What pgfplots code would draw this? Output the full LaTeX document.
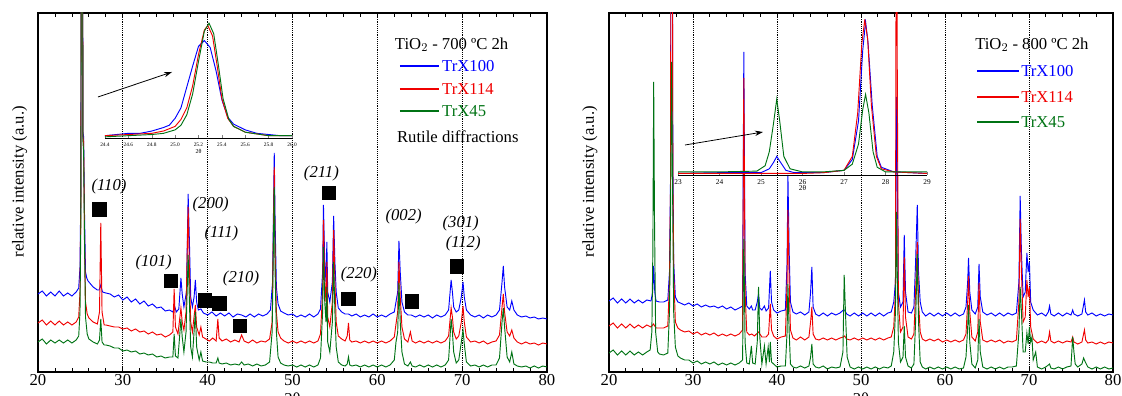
\documentclass[border=0pt]{standalone}
\usepackage{pgfplots}
\pgfplotsset{compat=1.18}
\usepackage{fontspec}
\setmainfont{Liberation Serif}
\usetikzlibrary{arrows.meta}
\definecolor{myblue}{RGB}{0,0,255}
\definecolor{myred}{RGB}{240,0,0}
\definecolor{mygreen}{RGB}{0,115,20}
\pgfplotsset{
  mainax/.style={
    scale only axis, height=269.25pt,
    xmin=20, xmax=80, ymin=0, ymax=359,
    xtick={20,30,40,50,60,70,80}, minor x tick num=4,
    ytick=\empty, tick align=inside,
    major tick length=4pt, minor tick length=3pt,
    xmajorgrids, major grid style={densely dotted, black, line width=0.5pt},
    axis line style={line width=0.8pt},
    every tick/.style={black, line width=0.6pt},
    tick label style={font=\fontsize{12.5}{14}\selectfont},
    xticklabel style={yshift=2pt},
    /pgf/number format/assume math mode=true,
    xlabel={2θ}, xlabel style={font=\fontsize{12.5}{14}\selectfont, yshift=1pt},
    ylabel={relative intensity (a.u.)},
    ylabel style={font=\fontsize{12.5}{14}\selectfont},
  },
  insetax/.style={
    scale only axis, ymin=0, ymax=1,
    axis x line*=bottom, axis y line=none,
    tick align=inside, major tick length=2pt,
    x axis line style={line width=0.6pt},
    tick label style={font=\fontsize{4}{5}\selectfont},
    /pgf/number format/assume math mode=true,
    xlabel style={font=\fontsize{4.5}{5}\selectfont, yshift=5pt},
  },
  bl/.style={color=myblue, line width=0.7pt},
  rl/.style={color=myred, line width=0.7pt},
  gl/.style={color=mygreen, line width=0.7pt},
}
\begin{document}
\begin{tikzpicture}
% ================= LEFT PANEL =================
\begin{axis}[mainax, width=381.75pt, at={(0pt,0pt)}, anchor=south west,
  ylabel style={at={(axis description cs:-0.036,0.53)}, anchor=center}]
\addplot[bl] coordinates {(20,78)(20.5,81)(21,76)(21.5,80)(22,76)(22.5,81)(23,76)(23.5,79)(24,76)(24.5,80)(24.8,84)(24.95,105)(25.05,180)(25.12,600)(25.22,600)(25.3,240)(25.38,235)(25.48,160)(25.6,100)(25.75,94)(25.9,91)(26.2,88)(26.5,85)(27.0,82)(27.2,82)(27.4,87)(27.6,80)(28,79)(28.5,78)(29,75)(29.5,77)(30,72)(30.5,75)(31,70)(31.5,73)(32,68)(32.5,71)(33,66)(33.5,68)(34,64)(34.5,65)(35,61)(35.5,62)(35.9,60)(36.1,66)(36.3,60)(36.6,63)(36.85,94)(37.0,78)(37.2,65)(37.5,80)(37.7,178)(37.85,130)(38.0,75)(38.2,65)(38.4,75)(38.55,92)(38.7,70)(38.9,62)(39.2,63)(39.5,59)(40,57)(40.5,60)(41,56)(41.5,59)(42,56)(42.5,59)(43,55)(43.5,58)(44,57)(44.5,55)(45,58)(45.5,55)(46,58)(46.5,56)(47,58)(47.4,62)(47.65,90)(47.85,219)(47.95,150)(48.1,85)(48.3,68)(48.6,61)(49,59)(49.5,57)(50,58)(50.5,55)(51,57)(51.5,55)(52,58)(52.5,55)(53,58)(53.3,63)(53.55,100)(53.65,167)(53.8,110)(53.95,90)(54.05,130)(54.15,80)(54.4,70)(54.7,90)(54.85,156)(55.0,110)(55.15,80)(55.4,64)(55.8,60)(56.2,58)(56.6,58)(57,56)(57.5,58)(58,55)(58.5,57)(59,55)(59.5,58)(60,55)(60.5,57)(61,55)(61.5,58)(62,60)(62.2,70)(62.4,80)(62.55,131)(62.7,100)(62.9,70)(63.2,60)(63.6,57)(64,57)(64.5,55)(65,57)(65.5,55)(66,57)(66.5,54)(67,57)(67.5,55)(68,57)(68.4,62)(68.7,92)(68.85,80)(69.0,65)(69.3,60)(69.6,62)(69.9,75)(70.1,90)(70.25,75)(70.5,62)(71,57)(71.5,55)(72,57)(72.5,54)(73,57)(73.5,55)(74,57)(74.4,62)(74.7,90)(74.85,106)(75.0,85)(75.3,65)(75.6,62)(75.85,71)(76.1,62)(76.5,57)(77,55)(77.5,56)(78,54)(78.5,55)(79,53)(79.5,54)(80,53)};
\addplot[rl] coordinates {(20,49)(20.5,52)(21,47)(21.5,51)(22,47)(22.5,51)(23,47)(23.5,50)(24,47)(24.5,50)(24.8,55)(24.95,80)(25.05,170)(25.12,600)(25.22,600)(25.3,235)(25.38,230)(25.48,140)(25.6,70)(25.8,58)(26,54)(26.5,50)(27,48)(27.25,60)(27.4,149)(27.55,60)(27.8,47)(28,47)(28.5,46)(29,45)(29.5,45)(30,43)(30.5,44)(31,41)(31.5,43)(32,40)(32.5,41)(33,38)(33.5,40)(34,37)(34.5,38)(35,35)(35.5,37)(35.9,40)(36.05,83)(36.2,45)(36.5,38)(36.85,64)(37.0,50)(37.2,42)(37.45,60)(37.7,165)(37.85,100)(38.0,50)(38.2,40)(38.55,67)(38.7,45)(39.0,37)(39.2,45)(39.4,35)(39.8,33)(40.2,31)(40.6,34)(41.0,31)(41.2,53)(41.35,34)(41.7,31)(42.2,33)(42.7,30)(43.2,32)(43.7,30)(44.0,37)(44.3,31)(44.8,29)(45.3,32)(45.8,29)(46.3,31)(46.8,30)(47.3,33)(47.6,50)(47.85,205)(47.95,120)(48.1,60)(48.3,40)(48.6,34)(49,31)(49.5,29)(50,31)(50.5,29)(51,31)(51.5,29)(52,31)(52.5,29)(53,31)(53.3,38)(53.55,80)(53.65,152)(53.8,90)(53.95,70)(54.05,110)(54.15,55)(54.4,45)(54.7,70)(54.85,142)(55.0,90)(55.15,50)(55.4,36)(55.8,33)(56.2,31)(56.45,36)(56.6,49)(56.75,32)(57,30)(57.5,31)(58,29)(58.5,31)(59,29)(59.5,31)(60,29)(60.5,31)(61,29)(61.5,31)(62,35)(62.2,48)(62.4,60)(62.55,110)(62.7,75)(62.9,45)(63.2,33)(63.6,30)(63.9,40)(64.1,31)(64.5,29)(65,31)(65.5,29)(66,31)(66.5,29)(67,31)(67.5,29)(68,31)(68.4,36)(68.7,64)(68.85,55)(69.0,40)(69.3,33)(69.6,36)(69.9,50)(70.1,66)(70.25,50)(70.5,35)(71,30)(71.5,31)(72,29)(72.5,31)(73,28)(73.5,30)(74,31)(74.4,37)(74.7,65)(74.85,78)(75.0,60)(75.3,40)(75.6,36)(75.85,42)(76.1,34)(76.5,30)(77,28)(77.5,30)(78,28)(78.5,29)(79,27)(79.5,29)(80,28)};
\addplot[gl] coordinates {(20,30)(20.5,33)(21,28)(21.5,32)(22,29)(22.5,32)(23,29)(23.5,32)(24,29)(24.5,32)(24.8,36)(24.95,60)(25.05,150)(25.12,600)(25.22,600)(25.3,230)(25.38,220)(25.48,130)(25.6,55)(25.8,38)(26,33)(26.5,30)(27,28)(27.25,32)(27.4,53)(27.55,30)(27.8,27)(28,27)(28.5,26)(29,24)(29.5,24)(30,21)(30.5,22)(31,20)(31.5,21)(32,18)(32.5,19)(33,17)(33.5,18)(34,15)(34.5,16)(35,14)(35.5,15)(35.9,15)(36.05,38)(36.2,16)(36.5,14)(36.85,53)(37.0,35)(37.2,20)(37.45,40)(37.7,117)(37.85,70)(38.0,25)(38.2,15)(38.55,60)(38.7,25)(39.0,12)(39.2,20)(39.4,11)(39.8,10)(40.2,10)(40.6,9)(41.0,9)(41.2,14)(41.35,9)(41.7,8)(42.2,9)(42.7,7)(43.2,8)(43.7,7)(44.0,10)(44.3,7)(44.8,8)(45.3,6)(45.8,8)(46.3,6)(46.8,7)(47.3,10)(47.6,40)(47.85,185)(47.95,100)(48.1,40)(48.3,15)(48.6,9)(49,7)(49.5,6)(50,7)(50.5,5)(51,7)(51.5,5)(52,7)(52.5,5)(53,7)(53.3,14)(53.55,60)(53.65,125)(53.8,70)(53.95,50)(54.05,85)(54.15,30)(54.4,20)(54.7,50)(54.85,110)(55.0,60)(55.15,25)(55.4,10)(55.8,7)(56.2,6)(56.45,8)(56.6,15)(56.75,7)(57,6)(57.5,7)(58,5)(58.5,7)(59,5)(59.5,7)(60,5)(60.5,7)(61,5)(61.5,7)(62,12)(62.2,30)(62.4,40)(62.55,89)(62.7,50)(62.9,20)(63.2,8)(63.6,6)(63.9,10)(64.1,6)(64.5,5)(65,7)(65.5,5)(66,7)(66.5,5)(67,7)(67.5,5)(68,7)(68.4,12)(68.7,53)(68.85,40)(69.0,20)(69.3,9)(69.6,12)(69.9,30)(70.1,42)(70.25,28)(70.5,10)(71,6)(71.5,7)(72,5)(72.5,7)(73,5)(73.5,7)(74,7)(74.4,14)(74.7,50)(74.85,64)(75.0,45)(75.3,15)(75.6,10)(75.85,20)(76.1,8)(76.5,6)(77,5)(77.5,6)(78,4)(78.5,6)(79,4)(79.5,6)(80,5)};
% rutile markers
\addplot[only marks, mark=square*, mark size=5pt, black] coordinates {(27.23,162.7)(35.64,91.3)(39.64,71.6)(41.37,68.8)(43.81,46)(54.26,179)(56.57,73.4)(64.06,70.6)(69.40,105.6)};
% hkl labels
\begin{scope}[every node/.style={font=\fontsize{12.5}{14}\selectfont\itshape}]
\node at (axis cs:28.37,186) {(110)};
\node at (axis cs:33.63,110) {(101)};
\node at (axis cs:40.36,168) {(200)};
\node at (axis cs:41.62,138.4) {(111)};
\node at (axis cs:43.93,94) {(210)};
\node at (axis cs:53.41,199) {(211)};
\node at (axis cs:57.83,97.7) {(220)};
\node at (axis cs:63.10,155.6) {(002)};
\node at (axis cs:69.83,149) {(301)};
\node at (axis cs:70.12,129) {(112)};
\end{scope}
% legend
\begin{scope}[every node/.style={font=\fontsize{12.5}{14}\selectfont, anchor=west, inner sep=0pt}]
\node at (axis cs:62.05,327) {TiO$_2$ - 700 ºC 2h};
\draw[myblue, line width=0.8pt] (axis cs:62.67,306) -- (axis cs:67.3,306);
\node[text=myblue] at (axis cs:67.62,306) {TrX100};
\draw[myred, line width=0.8pt] (axis cs:62.67,283) -- (axis cs:67.3,283);
\node[text=myred] at (axis cs:67.62,283) {TrX114};
\draw[mygreen, line width=0.8pt] (axis cs:62.67,261) -- (axis cs:67.3,261);
\node[text=mygreen] at (axis cs:67.62,261) {TrX45};
\node at (axis cs:62.3,235) {Rutile diffractions};
\end{scope}
\draw[-{Stealth[length=6pt,width=4pt]}, line width=0.6pt] (axis cs:27.07,275) -- (axis cs:35.8,300);
\end{axis}
% left inset
\begin{axis}[insetax, at={(50.25pt,175.5pt)}, anchor=south west, width=140.25pt, height=87pt,
  xmin=24.4, xmax=26.0, xtick={24.4,24.6,24.8,25.0,25.2,25.4,25.6,25.8,26.0},
  xticklabel style={/pgf/number format/fixed, /pgf/number format/precision=1, /pgf/number format/fixed zerofill},
  xlabel={2θ}]
\addplot[bl] coordinates {(24.4,0.02)(24.5,0.03)(24.6,0.04)(24.7,0.04)(24.8,0.06)(24.9,0.09)(24.95,0.11)(25.0,0.17)(25.05,0.26)(25.1,0.44)(25.15,0.62)(25.2,0.79)(25.25,0.84)(25.3,0.78)(25.35,0.58)(25.4,0.33)(25.45,0.18)(25.5,0.12)(25.6,0.07)(25.7,0.04)(25.8,0.03)(25.9,0.02)(26.0,0.02)};
\addplot[rl] coordinates {(24.4,0.02)(24.6,0.03)(24.8,0.04)(24.9,0.06)(25.0,0.10)(25.05,0.16)(25.1,0.26)(25.15,0.45)(25.2,0.72)(25.25,0.93)(25.28,0.97)(25.32,0.88)(25.36,0.62)(25.4,0.34)(25.45,0.17)(25.5,0.10)(25.6,0.05)(25.8,0.02)(26.0,0.02)};
\addplot[gl] coordinates {(24.4,0.01)(24.6,0.02)(24.8,0.03)(24.9,0.04)(25.0,0.07)(25.05,0.11)(25.1,0.20)(25.15,0.38)(25.2,0.66)(25.25,0.92)(25.29,0.99)(25.33,0.9)(25.37,0.63)(25.41,0.34)(25.46,0.16)(25.5,0.10)(25.6,0.05)(25.8,0.02)(26.0,0.02)};
\end{axis}
% ================= RIGHT PANEL =================
\begin{axis}[mainax, width=378pt, at={(428.25pt,0pt)}, anchor=south west,
  ylabel style={at={(axis description cs:-0.038,0.53)}, anchor=center}]
\addplot[bl] coordinates {(20,71)(20.5,74)(21,69)(21.5,73)(22,69)(22.5,73)(23,69)(23.5,72)(24,69)(24.5,72)(25.0,71)(25.2,80)(25.32,106)(25.45,80)(25.6,71)(26,70)(26.5,70)(27.0,72)(27.2,100)(27.32,190)(27.4,600)(27.5,600)(27.6,220)(27.7,110)(27.9,75)(28.2,70)(28.5,69)(29,67)(29.5,69)(30,66)(30.5,68)(31,65)(31.5,67)(32,65)(32.5,66)(33,64)(33.5,66)(34,63)(34.5,65)(35,62)(35.5,64)(35.9,66)(36.05,320)(36.2,100)(36.4,66)(36.7,63)(36.95,66)(37.1,62)(37.4,62)(37.65,70)(37.8,78)(37.95,64)(38.2,62)(38.5,66)(38.7,61)(39.0,64)(39.2,101)(39.35,70)(39.6,62)(40,59)(40.5,61)(41.0,62)(41.2,110)(41.3,197)(41.45,120)(41.6,70)(41.9,60)(42.3,58)(42.8,60)(43.3,57)(43.8,60)(44.0,80)(44.15,105)(44.3,65)(44.6,58)(45,56)(45.5,59)(46,56)(46.5,59)(47,57)(47.5,59)(47.9,62)(48.05,62)(48.3,58)(48.7,56)(49.2,59)(49.7,56)(50.2,59)(50.7,56)(51.2,59)(51.7,56)(52.2,59)(52.7,56)(53.2,59)(53.6,60)(53.9,70)(54.1,90)(54.22,275)(54.32,200)(54.45,80)(54.7,65)(55.0,70)(55.15,137)(55.3,80)(55.6,60)(56.0,59)(56.3,65)(56.5,110)(56.7,167)(56.85,100)(57.05,70)(57.3,60)(57.7,56)(58.2,59)(58.7,56)(59.2,59)(59.7,56)(60.2,59)(60.7,56)(61.2,59)(61.7,56)(62.2,58)(62.5,65)(62.7,90)(62.8,114)(62.95,80)(63.2,62)(63.6,58)(63.9,65)(64.05,108)(64.2,75)(64.5,60)(65,57)(65.5,59)(66,56)(66.5,59)(67,56)(67.5,59)(68,57)(68.5,59)(68.8,90)(68.95,176)(69.1,120)(69.3,75)(69.55,80)(69.75,119)(69.9,100)(70.05,110)(70.2,70)(70.5,62)(71,57)(71.5,59)(72,56)(72.3,60)(72.45,66)(72.6,58)(73,56)(73.5,59)(74,56)(74.5,59)(75.0,57)(75.2,62)(75.35,58)(75.8,56)(76.3,58)(76.45,65)(76.6,72)(76.75,60)(77,57)(77.5,59)(78,56)(78.5,58)(79,56)(79.5,58)(80,57)};
\addplot[rl] coordinates {(20,46)(20.5,49)(21,44)(21.5,48)(22,44)(22.5,48)(23,44)(23.5,47)(24,44)(24.5,47)(25,45)(25.3,48)(25.6,44)(26,44)(26.5,44)(27.0,46)(27.2,90)(27.32,180)(27.4,600)(27.5,600)(27.6,200)(27.7,100)(27.9,50)(28.2,44)(28.5,42)(29,40)(29.5,41)(30,38)(30.5,40)(31,37)(31.5,39)(32,37)(32.5,39)(33,36)(33.5,38)(34,36)(34.5,38)(35,36)(35.5,38)(35.9,42)(36.05,294)(36.2,80)(36.4,40)(36.7,37)(37.0,38)(37.3,36)(37.8,40)(38.2,35)(38.5,35)(38.7,35)(39.0,38)(39.2,68)(39.35,42)(39.6,36)(40,33)(40.5,35)(41.0,36)(41.2,90)(41.3,162)(41.45,90)(41.6,42)(41.9,34)(42.3,32)(42.8,35)(43.3,32)(43.8,35)(44.0,50)(44.15,65)(44.3,38)(44.6,33)(45,32)(45.5,34)(46,32)(46.5,34)(47,32)(47.5,34)(47.9,35)(48.05,36)(48.3,33)(48.7,32)(49.2,34)(49.7,32)(50.2,34)(50.7,32)(51.2,34)(51.7,32)(52.2,34)(52.7,32)(53.2,34)(53.6,35)(53.9,45)(54.1,80)(54.22,600)(54.32,300)(54.45,70)(54.7,40)(55.0,45)(55.15,115)(55.3,55)(55.6,35)(56.0,33)(56.3,38)(56.5,80)(56.7,130)(56.85,70)(57.05,40)(57.3,33)(57.7,31)(58.2,33)(58.7,31)(59.2,33)(59.7,30)(60.2,32)(60.7,30)(61.2,32)(61.7,30)(62.2,32)(62.5,38)(62.7,70)(62.8,96)(62.95,60)(63.2,35)(63.6,31)(63.9,40)(64.05,89)(64.2,50)(64.5,32)(65,30)(65.5,32)(66,30)(66.5,32)(67,29)(67.5,31)(68,30)(68.5,32)(68.8,70)(68.95,153)(69.1,100)(69.3,50)(69.55,55)(69.75,92)(69.9,75)(70.05,85)(70.2,45)(70.5,33)(71,29)(71.5,31)(72,29)(72.3,32)(72.45,40)(72.6,31)(73,29)(73.5,31)(74,29)(74.5,31)(75.0,30)(75.2,35)(75.35,30)(75.8,28)(76.3,30)(76.45,36)(76.6,42)(76.75,32)(77,29)(77.5,30)(78,28)(78.5,30)(79,28)(79.5,30)(80,29)};
\addplot[gl] coordinates {(20,19)(20.5,22)(21,17)(21.5,21)(22,17)(22.5,21)(23,17)(23.5,20)(24,17)(24.5,20)(24.9,22)(25.1,40)(25.22,120)(25.32,290)(25.42,150)(25.55,40)(25.8,20)(26,18)(26.5,17)(27.0,19)(27.2,60)(27.32,150)(27.45,310)(27.55,200)(27.7,60)(27.9,25)(28.2,16)(28.5,14)(29,12)(29.5,12)(30,9)(30.5,11)(31,8)(31.5,10)(32,8)(32.5,10)(33,7)(33.5,9)(34,7)(34.5,9)(35,7)(35.5,9)(35.9,12)(36.05,133)(36.2,30)(36.4,9)(36.7,8)(36.95,26)(37.1,9)(37.4,8)(37.65,30)(37.8,85)(37.95,35)(38.2,8)(38.5,26)(38.7,8)(38.95,25)(39.1,10)(39.2,30)(39.35,10)(39.6,8)(40,5)(40.5,6)(41.0,6)(41.2,40)(41.3,88)(41.45,40)(41.6,8)(41.9,5)(42.3,4)(42.8,6)(43.3,4)(43.8,6)(44.0,15)(44.15,28)(44.3,8)(44.6,5)(45,4)(45.5,6)(46,3)(46.5,5)(47,4)(47.5,5)(47.85,20)(48.0,97)(48.15,60)(48.35,15)(48.7,5)(49.2,3)(49.7,5)(50.2,3)(50.7,5)(51.2,3)(51.7,5)(52.2,3)(52.7,5)(53.2,4)(53.6,6)(53.9,20)(54.1,60)(54.22,160)(54.32,100)(54.45,30)(54.7,10)(55.0,15)(55.15,46)(55.3,15)(55.6,6)(56.0,4)(56.3,8)(56.5,50)(56.7,118)(56.85,50)(57.05,10)(57.3,5)(57.7,3)(58.2,5)(58.7,3)(59.2,5)(59.7,3)(60.2,5)(60.7,3)(61.2,5)(61.7,3)(62.2,4)(62.5,15)(62.7,45)(62.8,67)(62.95,30)(63.2,8)(63.6,4)(63.9,12)(64.05,53)(64.2,20)(64.5,5)(65,3)(65.5,5)(66,3)(66.5,5)(67,3)(67.5,5)(68,5)(68.5,6)(68.8,40)(68.95,85)(69.1,60)(69.3,20)(69.55,20)(69.75,39)(69.9,28)(70.05,45)(70.2,30)(70.35,35)(70.5,12)(70.8,20)(71.0,5)(71.5,3)(72,5)(72.45,8)(72.6,4)(73,3)(73.5,5)(74,3)(74.5,5)(75.0,6)(75.2,35)(75.35,20)(75.5,8)(75.8,5)(76.3,8)(76.5,14)(76.7,10)(77,5)(77.5,3)(78,5)(78.5,3)(79,5)(79.5,3)(80,4)};
\begin{scope}[every node/.style={font=\fontsize{12.5}{14}\selectfont, anchor=west, inner sep=0pt}]
\node at (axis cs:63.57,327) {TiO$_2$ - 800 ºC 2h};
\draw[myblue, line width=0.8pt] (axis cs:63.81,301) -- (axis cs:68.8,301);
\node[text=myblue] at (axis cs:69.05,301) {TrX100};
\draw[myred, line width=0.8pt] (axis cs:63.81,275) -- (axis cs:68.8,275);
\node[text=myred] at (axis cs:69.05,275) {TrX114};
\draw[mygreen, line width=0.8pt] (axis cs:63.81,250) -- (axis cs:68.8,250);
\node[text=mygreen] at (axis cs:69.05,250) {TrX45};
\end{scope}
\draw[-{Stealth[length=6pt,width=4pt]}, line width=0.6pt] (axis cs:29.05,227) -- (axis cs:38.33,240);
\end{axis}
% right inset
\begin{axis}[insetax, at={(480pt,147.75pt)}, anchor=south west, width=186.75pt, height=116.25pt,
  xmin=23, xmax=29, xtick={23,24,25,26,27,28,29},
  tick label style={font=\fontsize{5.5}{6}\selectfont},
  xlabel={2θ}, xlabel style={font=\fontsize{5.5}{6}\selectfont, yshift=1pt}]
\addplot[bl] coordinates {(23,0.01)(24,0.015)(25.0,0.015)(25.2,0.04)(25.3,0.08)(25.38,0.12)(25.45,0.09)(25.6,0.03)(25.8,0.015)(26.5,0.015)(27.0,0.03)(27.2,0.1)(27.35,0.35)(27.45,0.8)(27.52,0.99)(27.58,0.85)(27.68,0.45)(27.8,0.12)(27.9,0.05)(28.2,0.02)(29,0.01)};
\addplot[rl] coordinates {(23,0.01)(24,0.01)(25,0.01)(25.5,0.01)(26,0.01)(26.5,0.015)(27.0,0.03)(27.2,0.12)(27.33,0.4)(27.43,0.85)(27.5,1.0)(27.57,0.88)(27.66,0.45)(27.78,0.12)(27.9,0.04)(28.2,0.02)(29,0.01)};
\addplot[gl] coordinates {(23,0.02)(24,0.02)(24.9,0.025)(25.1,0.06)(25.2,0.15)(25.3,0.33)(25.38,0.49)(25.45,0.35)(25.55,0.12)(25.7,0.04)(26,0.02)(26.5,0.02)(27.0,0.03)(27.2,0.07)(27.35,0.2)(27.45,0.42)(27.52,0.52)(27.6,0.4)(27.7,0.15)(27.8,0.05)(28,0.02)(29,0.02)};
\end{axis}
\pgfresetboundingbox
\path[use as bounding box] (-28.5pt,-18pt) rectangle (813pt,279pt);
\end{tikzpicture}
\end{document}
